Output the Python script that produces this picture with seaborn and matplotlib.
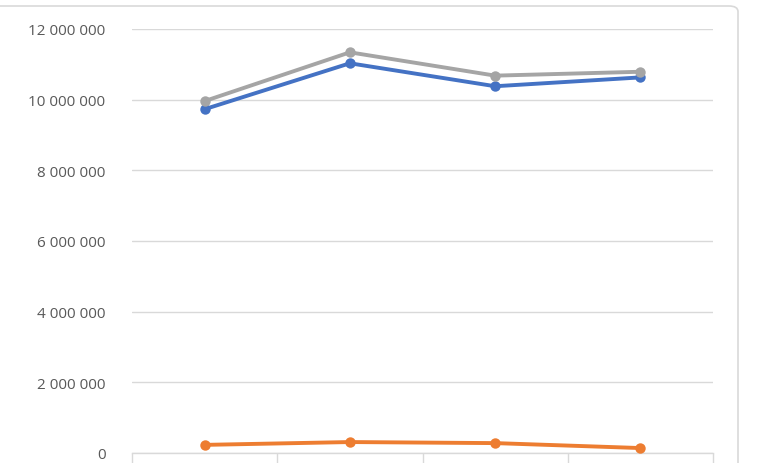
import numpy as np
import pandas as pd
import seaborn as sns
import matplotlib.pyplot as plt
from matplotlib.patches import FancyBboxPatch
from matplotlib.ticker import FuncFormatter

# --------------------------- DATA ---------------------------
categories = ["Н 1", "Н 2", "Н 3", "Н 4"]
series_names = ["Ряд 1", "Ряд 2", "Ряд 3"]
blue_vals = [9730000, 11030000, 10380000, 10630000]
orange_vals = [230000, 310000, 280000, 140000]
gray_vals = [9960000, 11340000, 10680000, 10790000]

colors = {"Ряд 1": "#4472C4", "Ряд 2": "#ED7D31", "Ряд 3": "#A5A5A5"}

df = pd.DataFrame({
    "cat": categories * 3,
    "x": list(range(len(categories))) * 3,
    "series": np.repeat(series_names, len(categories)),
    "value": blue_vals + orange_vals + gray_vals,
})

# --------------------------- PLOT ---------------------------
sns.set_theme(style="white")
plt.rcParams['font.family'] = ['Open Sans', 'DejaVu Sans']

fig = plt.figure(figsize=(7.58, 4.64), dpi=100)
fig.patch.set_facecolor("white")

# chart area frame (rounded, only top/right visible)
frame = FancyBboxPatch((-20 / 758, -40 / 464), (738 + 20) / 758, (457 + 40) / 464,
                       boxstyle="round,pad=0,rounding_size=0.012",
                       transform=fig.transFigure, facecolor="white",
                       edgecolor="#D9D9D9", lw=1.2, zorder=-5)
fig.patches.append(frame)

ax = fig.add_axes([132 / 758, 10 / 464, 581 / 758, 424 / 464])
ax.set_zorder(2)
ax.set_facecolor("none")

sns.lineplot(data=df, x="x", y="value", hue="series", palette=colors,
             marker="o", markersize=7.5, markeredgewidth=0, linewidth=2.8,
             legend=False, ax=ax, zorder=3)

ax.set_xlim(-0.5, 3.5)
ax.set_ylim(0, 12000000)
ax.set_yticks(np.arange(0, 12000001, 2000000))
ax.yaxis.set_major_formatter(FuncFormatter(lambda v, p: f"{int(v):,}".replace(",", " ")))
ax.yaxis.grid(True, color="#D9D9D9", lw=1)
ax.set_axisbelow(True)

ax.set_xticks(range(len(categories)))
ax.set_xticklabels(categories)
ax.set_xticks(np.arange(-0.5, 3.6, 1), minor=True)
ax.tick_params(axis="x", which="major", bottom=True, length=0, pad=6, labelsize=11, labelcolor="#595959")
ax.tick_params(axis="x", which="minor", bottom=True, length=10, color="#D9D9D9", width=1)
ax.tick_params(axis="y", length=0, pad=19, labelsize=11, labelcolor="#595959")

ax.set_xlabel("")
ax.set_ylabel("")
for s in ["top", "right", "left"]:
    ax.spines[s].set_visible(False)
ax.spines["bottom"].set_color("#D9D9D9")
ax.spines["bottom"].set_linewidth(1)

fig.savefig("out.png", dpi=100)
